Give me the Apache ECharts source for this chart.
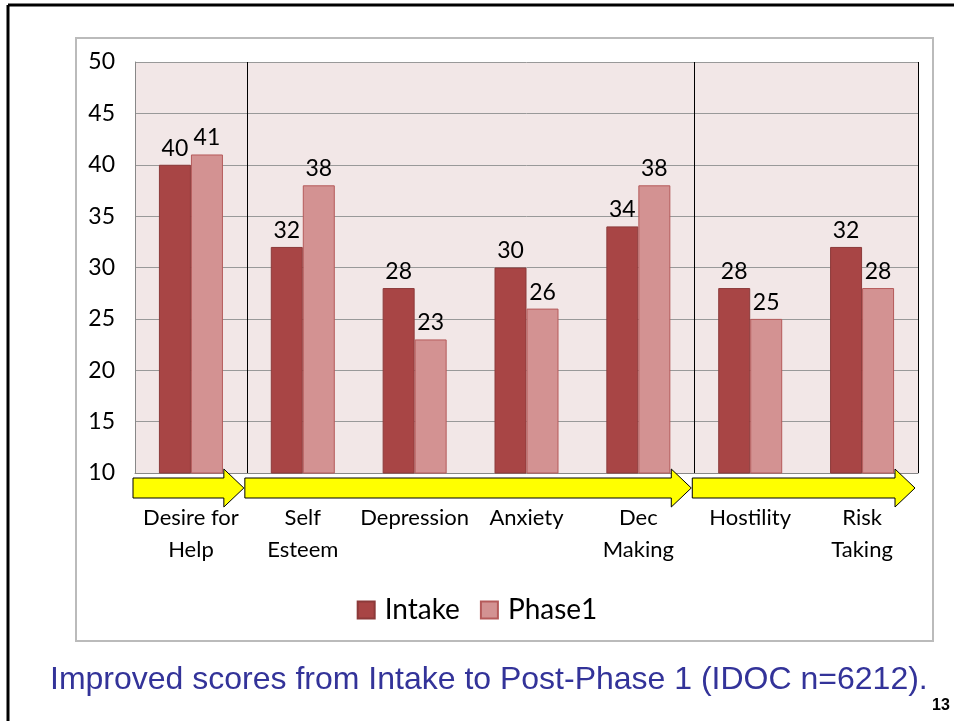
<!DOCTYPE html>
<html>
<head>
<meta charset="utf-8">
<script src="https://cdn.jsdelivr.net/npm/echarts@6/dist/echarts.min.js"></script>
<style>
  html, body { margin: 0; padding: 0; background: #fff; }
  #main { width: 954px; height: 721px; }
</style>
</head>
<body>
<div id="main"></div>
<script>
// categories and scores
var categories = ['Desire for\nHelp', 'Self\nEsteem', 'Depression', 'Anxiety', 'Dec\nMaking', 'Hostility', 'Risk\nTaking']
var intake = [40, 32, 28, 30, 34, 28, 32]
var phase1 = [41, 38, 23, 26, 38, 25, 28]
// arrow groups, in category index units [from, to)
var arrowGroups = [[0, 1], [1, 5], [5, 7]]
var separators = [1, 5]

var dom = document.getElementById('main')
var chart = echarts.init(dom)

var labelStyle = {
  show: true,
  position: 'top',
  distance: 5,
  color: '#000',
  fontSize: 23,
  fontFamily: 'Lato'
}

var option = {
  animation: false,
  grid: {
    left: 135,
    right: 36,
    top: 62,
    bottom: 248,
    show: true,
    backgroundColor: '#f2e7e7',
    borderWidth: 0
  },
  legend: {
    top: 591,
    left: 'center',
    itemWidth: 17,
    itemHeight: 17,
    itemGap: 20,
    icon: 'rect',
    textStyle: { fontSize: 28, fontFamily: 'Lato', color: '#000', padding: [0, 0, 0, 5] },
    data: ['Intake', 'Phase1']
  },
  xAxis: {
    type: 'category',
    data: categories,
    axisLine: { show: true, lineStyle: { color: '#888' } },
    axisTick: { show: false },
    axisLabel: {
      interval: 0,
      margin: 29,
      fontSize: 22,
      lineHeight: 32,
      fontFamily: 'Lato',
      color: '#000'
    },
    splitLine: {
      show: true,
      interval: function (i) { return separators.indexOf(i) >= 0 },
      lineStyle: { color: '#000', width: 1 }
    }
  },
  yAxis: {
    type: 'value',
    min: 10,
    max: 50,
    interval: 5,
    axisLine: { show: true, lineStyle: { color: '#888' } },
    axisTick: { show: false },
    axisLabel: { margin: 20, fontSize: 23, fontFamily: 'Lato', color: '#000' },
    splitLine: { lineStyle: { color: '#999', width: 1 } }
  },
  series: [
    {
      name: 'Intake',
      type: 'bar',
      barWidth: 32,
      barGap: '0%',
      data: intake,
      itemStyle: { color: '#a84545', borderColor: '#8c3a3a', borderWidth: 1 },
      label: labelStyle
    },
    {
      name: 'Phase1',
      type: 'bar',
      barWidth: 32,
      data: phase1,
      itemStyle: { color: '#d39292', borderColor: '#b55a5a', borderWidth: 1 },
      label: labelStyle
    }
  ]
}
chart.setOption(option)

// decorations: slide border, chart frame, yellow arrows, caption
var c0 = chart.convertToPixel({ xAxisIndex: 0 }, 0)
var c1 = chart.convertToPixel({ xAxisIndex: 0 }, 1)
var band = c1 - c0
var axisY = chart.convertToPixel({ yAxisIndex: 0 }, 10)

var graphics = [
  { type: 'line', shape: { x1: 8, y1: 5, x2: 954, y2: 5 }, style: { stroke: '#000', lineWidth: 3 }, z: 10 },
  { type: 'line', shape: { x1: 8, y1: 5, x2: 8, y2: 721 }, style: { stroke: '#000', lineWidth: 3 }, z: 10 },
  { type: 'rect', shape: { x: 76, y: 38, width: 857, height: 603 }, style: { fill: 'none', stroke: '#bbb', lineWidth: 2 }, z: -10 },
  {
    type: 'text', left: 50, top: 664,
    style: { text: 'Improved scores from Intake to Post-Phase 1 (IDOC n=6212).', fill: '#333399', fontSize: 32, fontFamily: 'Liberation Sans' }
  },
  {
    type: 'text', left: 932, top: 698,
    style: { text: '13', fill: '#000', fontSize: 16, fontWeight: 'bold', fontFamily: 'Liberation Sans' }
  }
]

arrowGroups.forEach(function (g) {
  var xs = c0 - band / 2 + g[0] * band - 2
  var xe = c0 - band / 2 + g[1] * band - 3
  var hb = xe - 20
  graphics.push({
    type: 'polygon',
    shape: {
      points: [
        [xs, axisY + 5], [hb, axisY + 5], [hb, axisY - 4], [xe, axisY + 15],
        [hb, axisY + 34], [hb, axisY + 25], [xs, axisY + 25]
      ]
    },
    style: { fill: '#ffff00', stroke: '#000', lineWidth: 1 },
    z: 5
  })
})

chart.setOption({ graphic: graphics })
</script>
</body>
</html>
